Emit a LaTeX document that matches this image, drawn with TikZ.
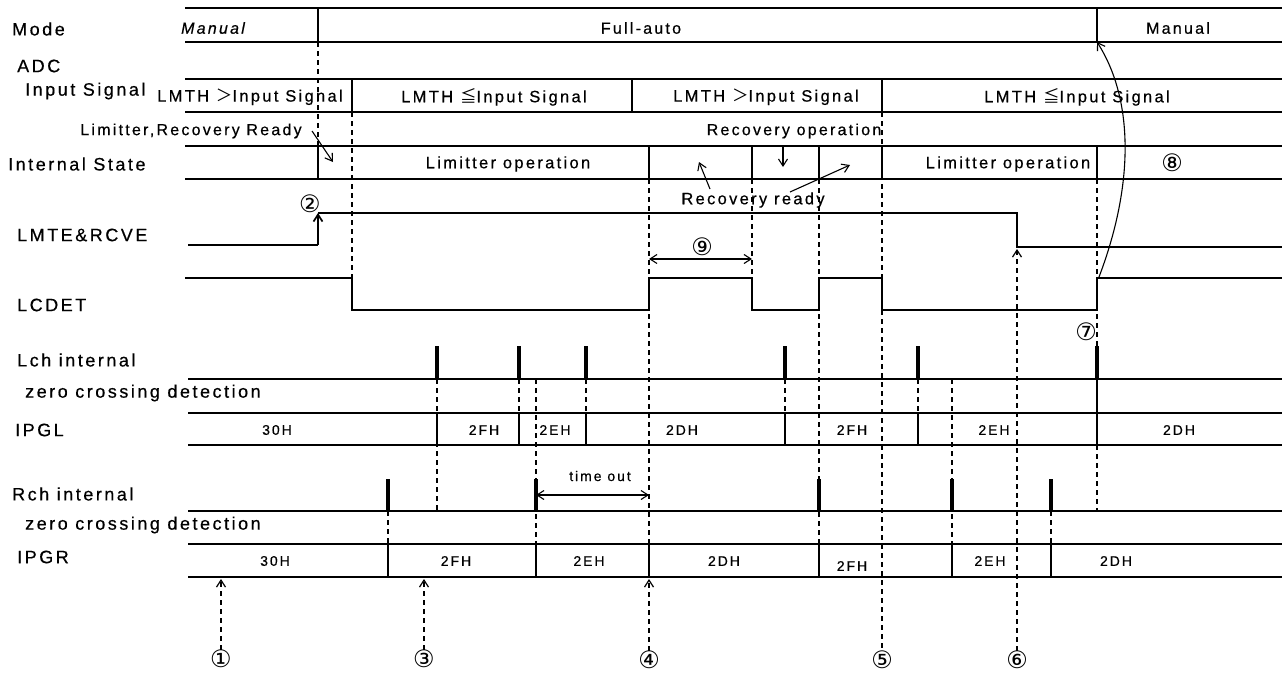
\documentclass[tikz,border=0pt]{standalone}
\usepackage{fontspec}
\setmainfont{Liberation Sans}[LetterSpace=14,FakeBold=0.5]
\newfontfamily\cjk{Noto Sans CJK JP}
\newfontfamily\circf{DejaVu Sans}
\usetikzlibrary{arrows.meta}
\tikzset{
  sig/.style={line width=1.7pt},
  thinln/.style={line width=1.1pt},
  bus/.style={line width=2.3pt},
  pulse/.style={line width=4pt},
  guide/.style={line width=1.2pt, dash pattern=on 5pt off 4pt},
  arr/.style={-{Straight Barb[length=7pt,width=9pt]}},
  barr/.style={{Straight Barb[length=7pt,width=9pt]}-{Straight Barb[length=7pt,width=9pt]}},
  lab/.style={anchor=west, inner sep=0pt, font=\fontsize{18}{20}\selectfont},
  txt/.style={inner sep=0pt, font=\fontsize{16.5}{18}\selectfont},
  hx/.style={inner sep=0pt, font=\fontsize{14}{16}\selectfont},
  cn/.style={inner sep=0pt, font=\circf\fontsize{24}{25}\selectfont},
}
\begin{document}
\begin{tikzpicture}[x=1pt,y=-1pt]
\useasboundingbox (0,0) rectangle (1282,675);

% ---- row labels
\node[lab] (lMode) at (12,29) {Mode};
\node[lab] (lADC) at (17,66) {ADC};
\node[lab] (lIn) at (25,91) {Input Signal};
\node[lab] (lInt) at (8,164) {Internal State};
\node[lab] (lLmte) at (17,235) {LMTE\&RCVE};
\node[lab] (lLcd) at (17,305) {LCDET};
\node[lab] (lLch) at (17,360) {Lch internal};
\node[lab] (lZl) at (25,393) {zero crossing detection};
\node[lab] (lIpgl) at (15,430) {IPGL};
\node[lab] (lRch) at (12,494) {Rch internal};
\node[lab] (lZr) at (25,525) {zero crossing detection};
\node[lab] (lIpgr) at (17,557) {IPGR};

% ---- Mode row
\draw[sig] (185,8) -- (1282,8);
\draw[sig] (185,42) -- (1282,42);
\draw[thinln] (318,8) -- (318,42);
\draw[thinln] (1097,8) -- (1097,42);
\node[txt,font=\itshape\fontsize{16}{18}\selectfont] (mMan1) at (213,28) {Manual};
\node[txt,font=\fontsize{16}{18}\selectfont] (mAuto) at (641,28) {Full-auto};
\node[txt,font=\fontsize{16}{18}\selectfont] (mMan2) at (1178,28) {Manual};

% ---- Input signal row
\draw[sig] (185,79) -- (1282,79);
\draw[sig] (185,112) -- (1282,112);
\foreach \x in {352,632,882} \draw[thinln] (\x,79) -- (\x,112);
\node[txt] (is1) at (250,97) {LMTH {\cjk ＞}Input Signal};
\node[txt] (is2) at (494,97) {LMTH {\cjk ≦}Input Signal};
\node[txt] (is3) at (766,97) {LMTH {\cjk ＞}Input Signal};
\node[txt] (is4) at (1077,97) {LMTH {\cjk ≦}Input Signal};

% ---- Internal state row
\node[txt,font=\fontsize{16}{18}\selectfont] (lrr) at (191,131) {Limitter,Recovery Ready};
\node[txt,font=\fontsize{16}{18}\selectfont] (rop) at (794,131) {Recovery operation};
\draw[sig] (185,146) -- (1282,146);
\draw[sig] (185,179) -- (1282,179);
\foreach \x in {318,649,752,819,882,1097} \draw[thinln] (\x,146) -- (\x,179);
\node[txt] (lo1) at (508,164) {Limitter operation};
\node[txt] (lo2) at (1008,164) {Limitter operation};
\node[cn] (c8) at (1172,163) {⑧};
\node[txt] (rrd) at (753,200) {Recovery ready};
\coordinate (lrrS) at (312,131);
\coordinate (lrrT) at (333,162);
\draw[thinln,arr] (lrrS) -- (lrrT);
\draw[thinln,arr] (783,146) -- (783,167);
\draw[thinln,arr] (710,189) -- (699,162);
\draw[thinln,arr] (790,192) -- (850,165);

% ---- LMTE&RCVE
\draw[sig] (188,245) -- (318,245);
\draw[sig,arr] (318,245) -- (318,213);
\draw[sig] (318,213) -- (1017,213) -- (1017,247) -- (1282,247);
\node[cn] (c2) at (310,204) {②};

% ---- LCDET
\draw[sig] (185,278) -- (352,278) -- (352,310) -- (649,310) -- (649,278)
  -- (752,278) -- (752,310) -- (819,310) -- (819,278) -- (882,278)
  -- (882,310) -- (1097,310) -- (1097,278) -- (1282,278);
\node[cn] (c9) at (702,247) {⑨};
\draw[thinln,barr] (649,259) -- (752,259);
\node[cn] (c7) at (1086,332) {⑦};

% curve to Mode change
\draw[thinln,arr] (1099,277) .. controls (1134,185) and (1134,100) .. (1097,42);

% ---- Lch
\draw[sig] (188,379) -- (1282,379);
\foreach \x in {437,519,586,785,918,1097} \draw[pulse] (\x,346) -- (\x,379);
% ---- IPGL
\draw[bus] (188,413) -- (1282,413);
\draw[bus] (188,445) -- (1282,445);
\foreach \x in {437,519,586,785,918,1097} \draw[sig] (\x,413) -- (\x,445);
\node[hx] at (277,430) {30H};
\node[hx] at (484,430) {2FH};
\node[hx] at (555,430) {2EH};
\node[hx] at (682,430) {2DH};
\node[hx] at (852,430) {2FH};
\node[hx] at (994,430) {2EH};
\node[hx] at (1179,430) {2DH};

% ---- Rch
\draw[sig] (188,511) -- (1282,511);
\foreach \x in {388,536,819,952,1051} \draw[pulse] (\x,479) -- (\x,511);
\node[hx] (tout) at (600,476) {time out};
\draw[thinln,barr] (536,495) -- (649,495);
% ---- IPGR
\draw[bus] (188,544) -- (1282,544);
\draw[bus] (188,577) -- (1282,577);
\foreach \x in {388,536,649,819,952,1051} \draw[sig] (\x,544) -- (\x,577);
\node[hx] at (275,561) {30H};
\node[hx] at (456,561) {2FH};
\node[hx] at (589,561) {2EH};
\node[hx] at (724,561) {2DH};
\node[hx] at (852,566) {2FH};
\node[hx] at (990,561) {2EH};
\node[hx] at (1116,561) {2DH};

% ---- bottom markers
\node[cn] (c1) at (221,659) {①};
\node[cn] (c3) at (424,659) {③};
\node[cn] (c4) at (649,660) {④};
\node[cn] (c5) at (882,660) {⑤};
\node[cn] (c6) at (1017,660) {⑥};

% ---- dashed guides
\draw[guide] (318,42) -- (318,146);
\draw[guide] (352,112) -- (352,278);
\draw[guide] (649,179) -- (649,578);
\draw[guide] (752,179) -- (752,278);
\draw[guide] (819,179) -- (819,544);
\draw[guide] (882,112) -- (c5.north);
\draw[guide] (1097,179) -- (1097,346);
\draw[thinln] (1097,379) -- (1097,413);
\draw[guide] (1097,445) -- (1097,511);
\draw[guide] (437,379) -- (437,511);
\draw[guide] (519,379) -- (519,413);
\draw[guide] (536,379) -- (536,544);
\draw[guide] (586,379) -- (586,413);
\draw[guide] (785,379) -- (785,413);
\draw[guide] (918,379) -- (918,413);
\draw[guide] (952,379) -- (952,544);
\draw[guide] (388,511) -- (388,544);
\draw[guide] (1051,511) -- (1051,544);
\draw[guide,arr] (c1.north) -- (221,579);
\draw[guide,arr] (c3.north) -- (424,579);
\draw[guide,arr] (c4.north) -- (649,579);
\draw[guide,arr] (c6.north) -- (1017,249);
\end{tikzpicture}
\end{document}
